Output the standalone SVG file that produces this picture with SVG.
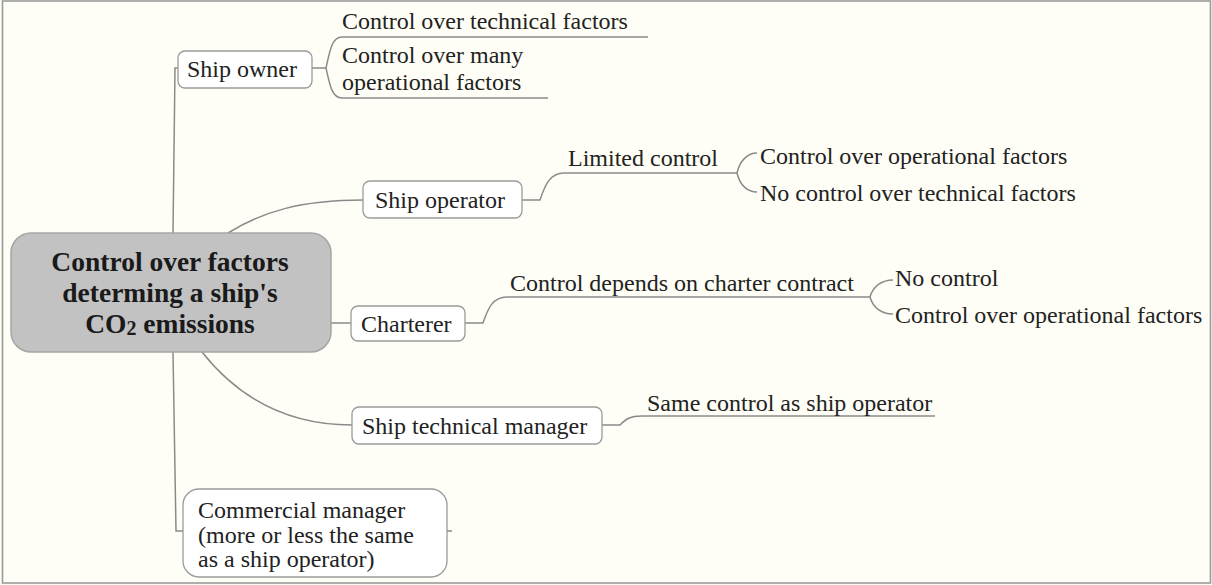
<svg xmlns="http://www.w3.org/2000/svg" width="1212" height="585" viewBox="0 0 1212 585">
<style>
.t{font-family:"Liberation Serif","Times New Roman",serif;font-size:24px;fill:#222}
.c{font-family:"Liberation Serif","Times New Roman",serif;font-size:27.5px;font-weight:bold;fill:#1a1a1a;text-anchor:middle}
.box{fill:#ffffff;stroke:#9a9a9a;stroke-width:1.3}
.ln{fill:none;stroke:#8a8a8a;stroke-width:1.5}
</style>
<rect x="0" y="0" width="1212" height="585" fill="#fefef6"/>
<rect x="2.5" y="1" width="1208" height="582" fill="none" stroke="#9a9a9a" stroke-width="1.6"/>
<g id="connectors">
<path class="ln" d="M178,68 L175,68 L173,233"/>
<path class="ln" d="M173,352 L176,531 L183,531"/>
<path class="ln" d="M447,531 L452,531"/>
<path class="ln" d="M228,233 C262,212 300,200 363,200"/>
<path class="ln" d="M330,323 L351,323"/>
<path class="ln" d="M202,352 C240,400 290,425 352,425"/>
<path class="ln" d="M312,68 L326,68 C330,50 332,37 342,37 L648,37"/>
<path class="ln" d="M326,68 C330,86 332,98 342,98 L548,98"/>
<path class="ln" d="M522,200 L540,200 C545,185 550,173 564,173 L737,173"/>
<path class="ln" d="M737,173 C740,160 748,153 757,153"/>
<path class="ln" d="M737,173 C740,186 748,192 757,192"/>
<path class="ln" d="M465,323 L483,323 C488,308 493,297 507,297 L870,297"/>
<path class="ln" d="M870,297 C873,286 882,280 893,280"/>
<path class="ln" d="M870,297 C873,308 882,314 893,314"/>
<path class="ln" d="M602,425 L620,425 C626,419 630,416 642,416 L935,416"/>
</g>
<g id="central">
<rect x="11" y="233" width="320" height="119" rx="20" fill="#c2c2c2" stroke="#a5a5a5" stroke-width="1.5"/>
<text class="c" x="170" y="271">Control over factors</text>
<text class="c" x="170" y="302">determing a ship's</text>
<text class="c" x="170" y="333">CO<tspan font-size="20" dy="2">2</tspan><tspan dy="-2"> emissions</tspan></text>
</g>
<g id="ship-owner">
<rect class="box" x="178" y="51" width="134" height="37" rx="7"/>
<text class="t" x="187" y="77">Ship owner</text>
</g>
<g id="owner-technical"><text class="t" x="342" y="29">Control over technical factors</text></g>
<g id="owner-operational"><text class="t" x="342" y="63">Control over many</text><text class="t" x="342" y="90">operational factors</text></g>
<g id="ship-operator">
<rect class="box" x="363" y="181" width="159" height="37" rx="7"/>
<text class="t" x="375" y="208">Ship operator</text>
</g>
<g id="limited-control"><text class="t" x="568" y="166">Limited control</text></g>
<g id="op-operational"><text class="t" x="760" y="164">Control over operational factors</text></g>
<g id="op-technical"><text class="t" x="760" y="201">No control over technical factors</text></g>
<g id="charterer">
<rect class="box" x="351" y="306" width="114" height="35" rx="7"/>
<text class="t" x="361" y="332">Charterer</text>
</g>
<g id="charter-contract"><text class="t" x="510" y="291">Control depends on charter contract</text></g>
<g id="no-control"><text class="t" x="895" y="286">No control</text></g>
<g id="charter-operational"><text class="t" x="895" y="323">Control over operational factors</text></g>
<g id="technical-manager">
<rect class="box" x="352" y="407" width="250" height="37" rx="7"/>
<text class="t" x="362" y="434">Ship technical manager</text>
</g>
<g id="same-control"><text class="t" x="647" y="411">Same control as ship operator</text></g>
<g id="commercial-manager">
<rect class="box" x="183" y="489" width="264" height="88" rx="16"/>
<text class="t" x="198" y="518">Commercial manager</text>
<text class="t" x="198" y="543">(more or less the same</text>
<text class="t" x="198" y="567">as a ship operator)</text>
</g>
</svg>
